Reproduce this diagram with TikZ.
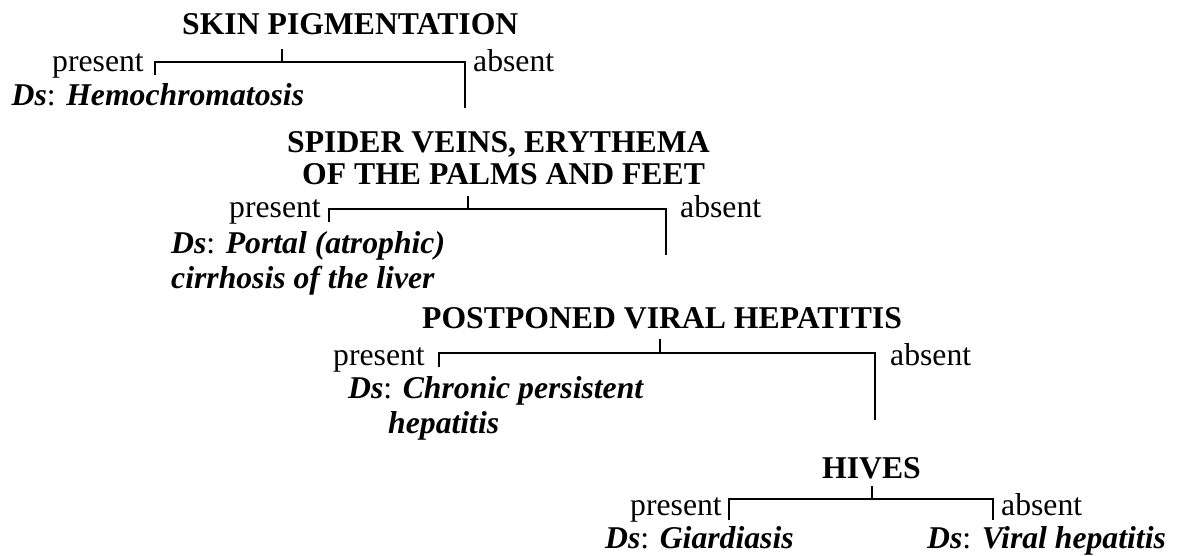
\documentclass[tikz,border=0pt]{standalone}
\usepackage{fontspec}
\setmainfont{Liberation Serif}
\begin{document}
\begin{tikzpicture}[x=1pt,y=-1pt,
  txt/.style={anchor=base west, inner sep=0pt, font=\fontsize{31.7}{38}\selectfont},
  hd/.style={txt, font=\fontsize{31.7}{38}\selectfont\bfseries},
  ds/.style={txt, font=\fontsize{31.7}{38}\selectfont\bfseries\itshape},
  ln/.style={line width=1.8pt}]
\useasboundingbox (0,0) rectangle (1183,556);
% ---------- level 1
\node[hd] (h1) at (182,35) {SKIN PIGMENTATION};
\node[txt] (p1) at (52,72) {present};
\node[txt] (a1) at (473,72) {absent};
\node[ds] (d1) at (11.5,106) {Ds{\normalfont:} Hemochromatosis};
\coordinate (s1t) at (282,49);
\coordinate (s1b) at (282,62);
\coordinate (l1t) at (155,62);
\coordinate (l1b) at (155,75);
\coordinate (r1t) at (465,62);
\coordinate (r1b) at (465,108);
\draw[ln] (s1t) -- (s1b);
\draw[ln] (l1b) -- (l1t) -- (r1t) -- (r1b);
% ---------- level 2
\node[hd] (h2a) at (287,153) {SPIDER VEINS, ERYTHEMA};
\node[hd] (h2b) at (302,185) {OF THE PALMS AND FEET};
\node[txt] (p2) at (229,218) {present};
\node[txt] (a2) at (680,218) {absent};
\node[ds] (d2a) at (171,253) {Ds{\normalfont:} Portal (atrophic)};
\node[ds] (d2b) at (171,288) {cirrhosis of the liver};
\coordinate (s2t) at (468,196);
\coordinate (s2b) at (468,209);
\coordinate (l2t) at (329,209);
\coordinate (l2b) at (329,222);
\coordinate (r2t) at (666,209);
\coordinate (r2b) at (666,255);
\draw[ln] (s2t) -- (s2b);
\draw[ln] (l2b) -- (l2t) -- (r2t) -- (r2b);
% ---------- level 3
\node[hd] (h3) at (422,328) {POSTPONED VIRAL HEPATITIS};
\node[txt] (p3) at (333,365) {present};
\node[txt] (a3) at (890,365) {absent};
\node[ds] (d3a) at (348,398) {Ds{\normalfont:} Chronic persistent};
\node[ds] (d3b) at (388,433) {hepatitis};
\coordinate (s3t) at (660,339);
\coordinate (s3b) at (660,353);
\coordinate (l3t) at (439,353);
\coordinate (l3b) at (439,367);
\coordinate (r3t) at (875,353);
\coordinate (r3b) at (875,420);
\draw[ln] (s3t) -- (s3b);
\draw[ln] (l3b) -- (l3t) -- (r3t) -- (r3b);
% ---------- level 4
\node[hd] (h4) at (822,478) {HIVES};
\node[txt] (p4) at (630,515) {present};
\node[txt] (a4) at (1001,515) {absent};
\node[ds] (d4a) at (605,548) {Ds{\normalfont:} Giardiasis};
\node[ds] (d4b) at (927,548) {Ds{\normalfont:} Viral hepatitis};
\coordinate (s4t) at (872,486);
\coordinate (s4b) at (872,499);
\coordinate (l4t) at (729,499);
\coordinate (l4b) at (729,520);
\coordinate (r4t) at (993,499);
\coordinate (r4b) at (993,520);
\draw[ln] (s4t) -- (s4b);
\draw[ln] (l4b) -- (l4t) -- (r4t) -- (r4b);
\end{tikzpicture}
\end{document}
